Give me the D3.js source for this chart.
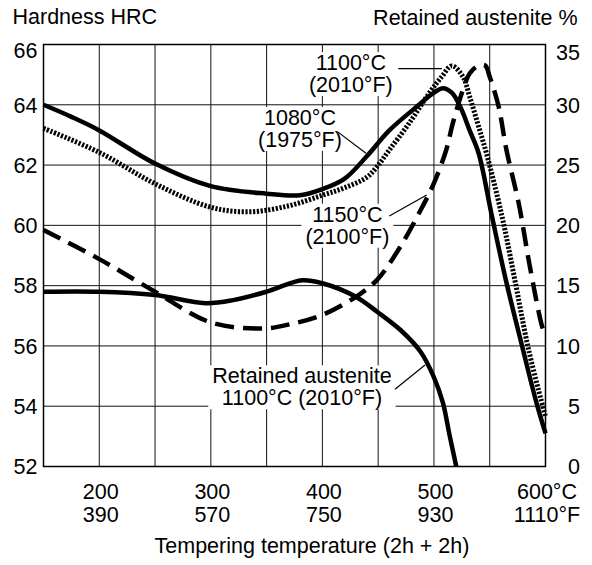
<!DOCTYPE html>
<html>
<head>
<meta charset="utf-8">
<script src="https://cdn.jsdelivr.net/npm/d3@7"></script>
<style>
  html, body { margin: 0; padding: 0; background: #fff; }
  svg text { font-family: "Liberation Sans", Arial, Helvetica, sans-serif; font-size: 21.5px; fill: #000; }
</style>
</head>
<body>
<svg id="chart" width="592" height="565"></svg>
<script>
// Hardness after tempering (2h + 2h), hardened from 1080 °C
const temps1080 = [150, 175, 200, 250, 300, 350, 380, 400, 420, 440, 460, 485, 500, 508, 516, 524, 532, 540, 552, 565, 580, 592, 600];
const hrc1080   = [64.0, 63.6, 63.15, 62.05, 61.3, 61.05, 61.0, 61.2, 61.55, 62.3, 63.15, 63.95, 64.4, 64.55, 64.4, 63.9, 63.15, 62.4, 60.3, 58.1, 55.85, 54.1, 53.1];

// Hardness, hardened from 1100 °C
const temps1100 = [150, 200, 250, 300, 335, 370, 400, 420, 440, 450, 460, 478, 496, 507, 516, 526, 532, 541, 547, 561, 573, 585, 600];
const hrc1100   = [63.22, 62.42, 61.38, 60.6, 60.45, 60.65, 61.0, 61.25, 61.6, 62.0, 62.5, 63.4, 64.4, 64.93, 65.29, 64.93, 64.27, 63.16, 62.4, 60.3, 58.1, 55.85, 53.65];

// Hardness, hardened from 1150 °C
const temps1150 = [150, 200, 250, 300, 348, 371, 400, 430, 449, 470, 488, 500, 511, 517, 526, 532, 540, 546, 550, 558, 565, 576, 586, 597, 600];
const hrc1150   = [59.85, 58.88, 57.8, 56.78, 56.58, 56.72, 57.03, 57.63, 58.19, 59.3, 60.5, 61.4, 62.5, 63.4, 64.5, 65.04, 65.3, 65.3, 64.93, 63.94, 62.5, 60.73, 58.63, 56.64, 56.35];

// Retained austenite (%), hardened from 1100 °C
const tempsRA = [150, 200, 250, 295, 320, 350, 382, 400, 430, 449, 470, 488, 500, 508, 514, 520];
const pctRA   = [14.5, 14.5, 14.22, 13.55, 13.8, 14.5, 15.45, 15.2, 14.08, 12.84, 11.32, 9.52, 7.4, 5.3, 2.6, 0];

// Axis ticks
const hrcTicks = [52, 54, 56, 58, 60, 62, 64, 66];
const raTicks  = [0, 5, 10, 15, 20, 25, 30, 35];
const tempGrid = [200, 250, 300, 350, 400, 450, 500, 550];
const tempTicksC = [200, 300, 400, 500, 600];
const tickLabelsC = ["200", "300", "400", "500", "600°C"];
const tickLabelsF = ["390", "570", "750", "930", "1110°F"];

// Curve labels: text lines, anchor (°C, HRC) of first baseline, leader from/to (°C, HRC)
const labelText = [
  ["1100°C", "(2010°F)"],
  ["1080°C", "(1975°F)"],
  ["1150°C", "(2100°F)"],
  ["Retained austenite", "1100°C (2010°F)"]
];
const labelAt = [[425.5, 65.15], [379.9, 63.33], [422.4, 60.12], [381.7, 54.76]];
const leaderFrom = [[468.0, 65.2], [413.4, 63.11], [460.0, 60.31], [465.1, 54.56]];
const leaderTo   = [[507.2, 65.2], [439.1, 62.39], [493.5, 61.01], [492.0, 55.37]];

const svg = d3.select("#chart");
const L = 43.5, R = 545.5, T = 44.5, B = 466.5;

const x = d3.scaleLinear().domain([150, 600]).range([L, R]);
const yH = d3.scaleLinear().domain([52, 66]).range([B, T]);
const yR = d3.scaleLinear().domain([0, 35]).range([B, T]);

// grid
const grid = svg.append("g").attr("stroke", "#111").attr("stroke-width", 1).attr("fill", "none");
grid.selectAll("line.h").data(hrcTicks.slice(1, -1)).enter().append("line")
  .attr("x1", L).attr("x2", R).attr("y1", d => yH(d)).attr("y2", d => yH(d));
grid.selectAll("line.v").data(tempGrid).enter().append("line")
  .attr("x1", d => x(d)).attr("x2", d => x(d)).attr("y1", T).attr("y2", B);

// white knock-out boxes behind curve labels
const boxLayer = svg.append("g");

// frame
svg.append("rect").attr("x", L).attr("y", T).attr("width", R - L).attr("height", B - T)
  .attr("fill", "none").attr("stroke", "#000").attr("stroke-width", 1.5);

// curves
const lineH = d3.line().x(d => x(d[0])).y(d => yH(d[1])).curve(d3.curveCatmullRom.alpha(0.5));
const lineR = d3.line().x(d => x(d[0])).y(d => yR(d[1])).curve(d3.curveCatmullRom.alpha(0.5));
const zip = (a, b) => a.map((v, i) => [v, b[i]]);

const curves = svg.append("g").attr("fill", "none").attr("stroke", "#000");
curves.append("path").attr("d", lineH(zip(temps1150, hrc1150)))
  .attr("stroke-width", 4.5).attr("stroke-dasharray", "19,9");
curves.append("path").attr("d", lineH(zip(temps1100, hrc1100)))
  .attr("stroke-width", 5).attr("stroke-dasharray", "2.2,1.6");
curves.append("path").attr("d", lineH(zip(temps1080, hrc1080)))
  .attr("stroke-width", 4.5);
curves.append("path").attr("d", lineR(zip(tempsRA, pctRA)))
  .attr("stroke-width", 4.5);

// curve labels
const lineGap = 22;
labelText.forEach((lines, i) => {
  const g = svg.append("g");
  const t = g.append("text").attr("text-anchor", "middle");
  lines.forEach((s, j) => {
    t.append("tspan").attr("x", x(labelAt[i][0])).attr("y", yH(labelAt[i][1]) + j * lineGap).text(s);
  });
  const bb = t.node().getBBox();
  boxLayer.append("rect").attr("x", bb.x - 4).attr("y", bb.y + 1).attr("width", bb.width + 8).attr("height", bb.height - 2)
    .attr("fill", "#fff");
  svg.append("line")
    .attr("x1", x(leaderFrom[i][0])).attr("y1", yH(leaderFrom[i][1]))
    .attr("x2", x(leaderTo[i][0])).attr("y2", yH(leaderTo[i][1]))
    .attr("stroke", "#000").attr("stroke-width", 1.2);
});

// left axis labels
svg.append("g").selectAll("text").data(hrcTicks).enter().append("text")
  .attr("x", 37.5).attr("y", d => yH(d) + (d === 66 ? 6 : 0)).attr("dy", "0.36em")
  .attr("text-anchor", "end").text(d => d);

// right axis labels
svg.append("g").selectAll("text").data(raTicks).enter().append("text")
  .attr("x", 580).attr("y", d => yR(d) + (d === 35 ? 8 : 0)).attr("dy", "0.36em")
  .attr("text-anchor", "end").text(d => d);

// bottom axis labels
const xl = svg.append("g").attr("text-anchor", "middle");
tempTicksC.forEach((c, i) => {
  xl.append("text").attr("x", x(c) + 1.5).attr("y", B + 32).text(tickLabelsC[i]);
  xl.append("text").attr("x", x(c) + 1.5).attr("y", B + 55).text(tickLabelsF[i]);
});

// titles
svg.append("text").attr("x", 12.5).attr("y", 24).text("Hardness HRC");
svg.append("text").attr("x", 577.5).attr("y", 25).attr("text-anchor", "end").text("Retained austenite %");
svg.append("text").attr("x", 312).attr("y", 553).attr("text-anchor", "middle").text("Tempering temperature (2h + 2h)");
</script>
</body>
</html>
